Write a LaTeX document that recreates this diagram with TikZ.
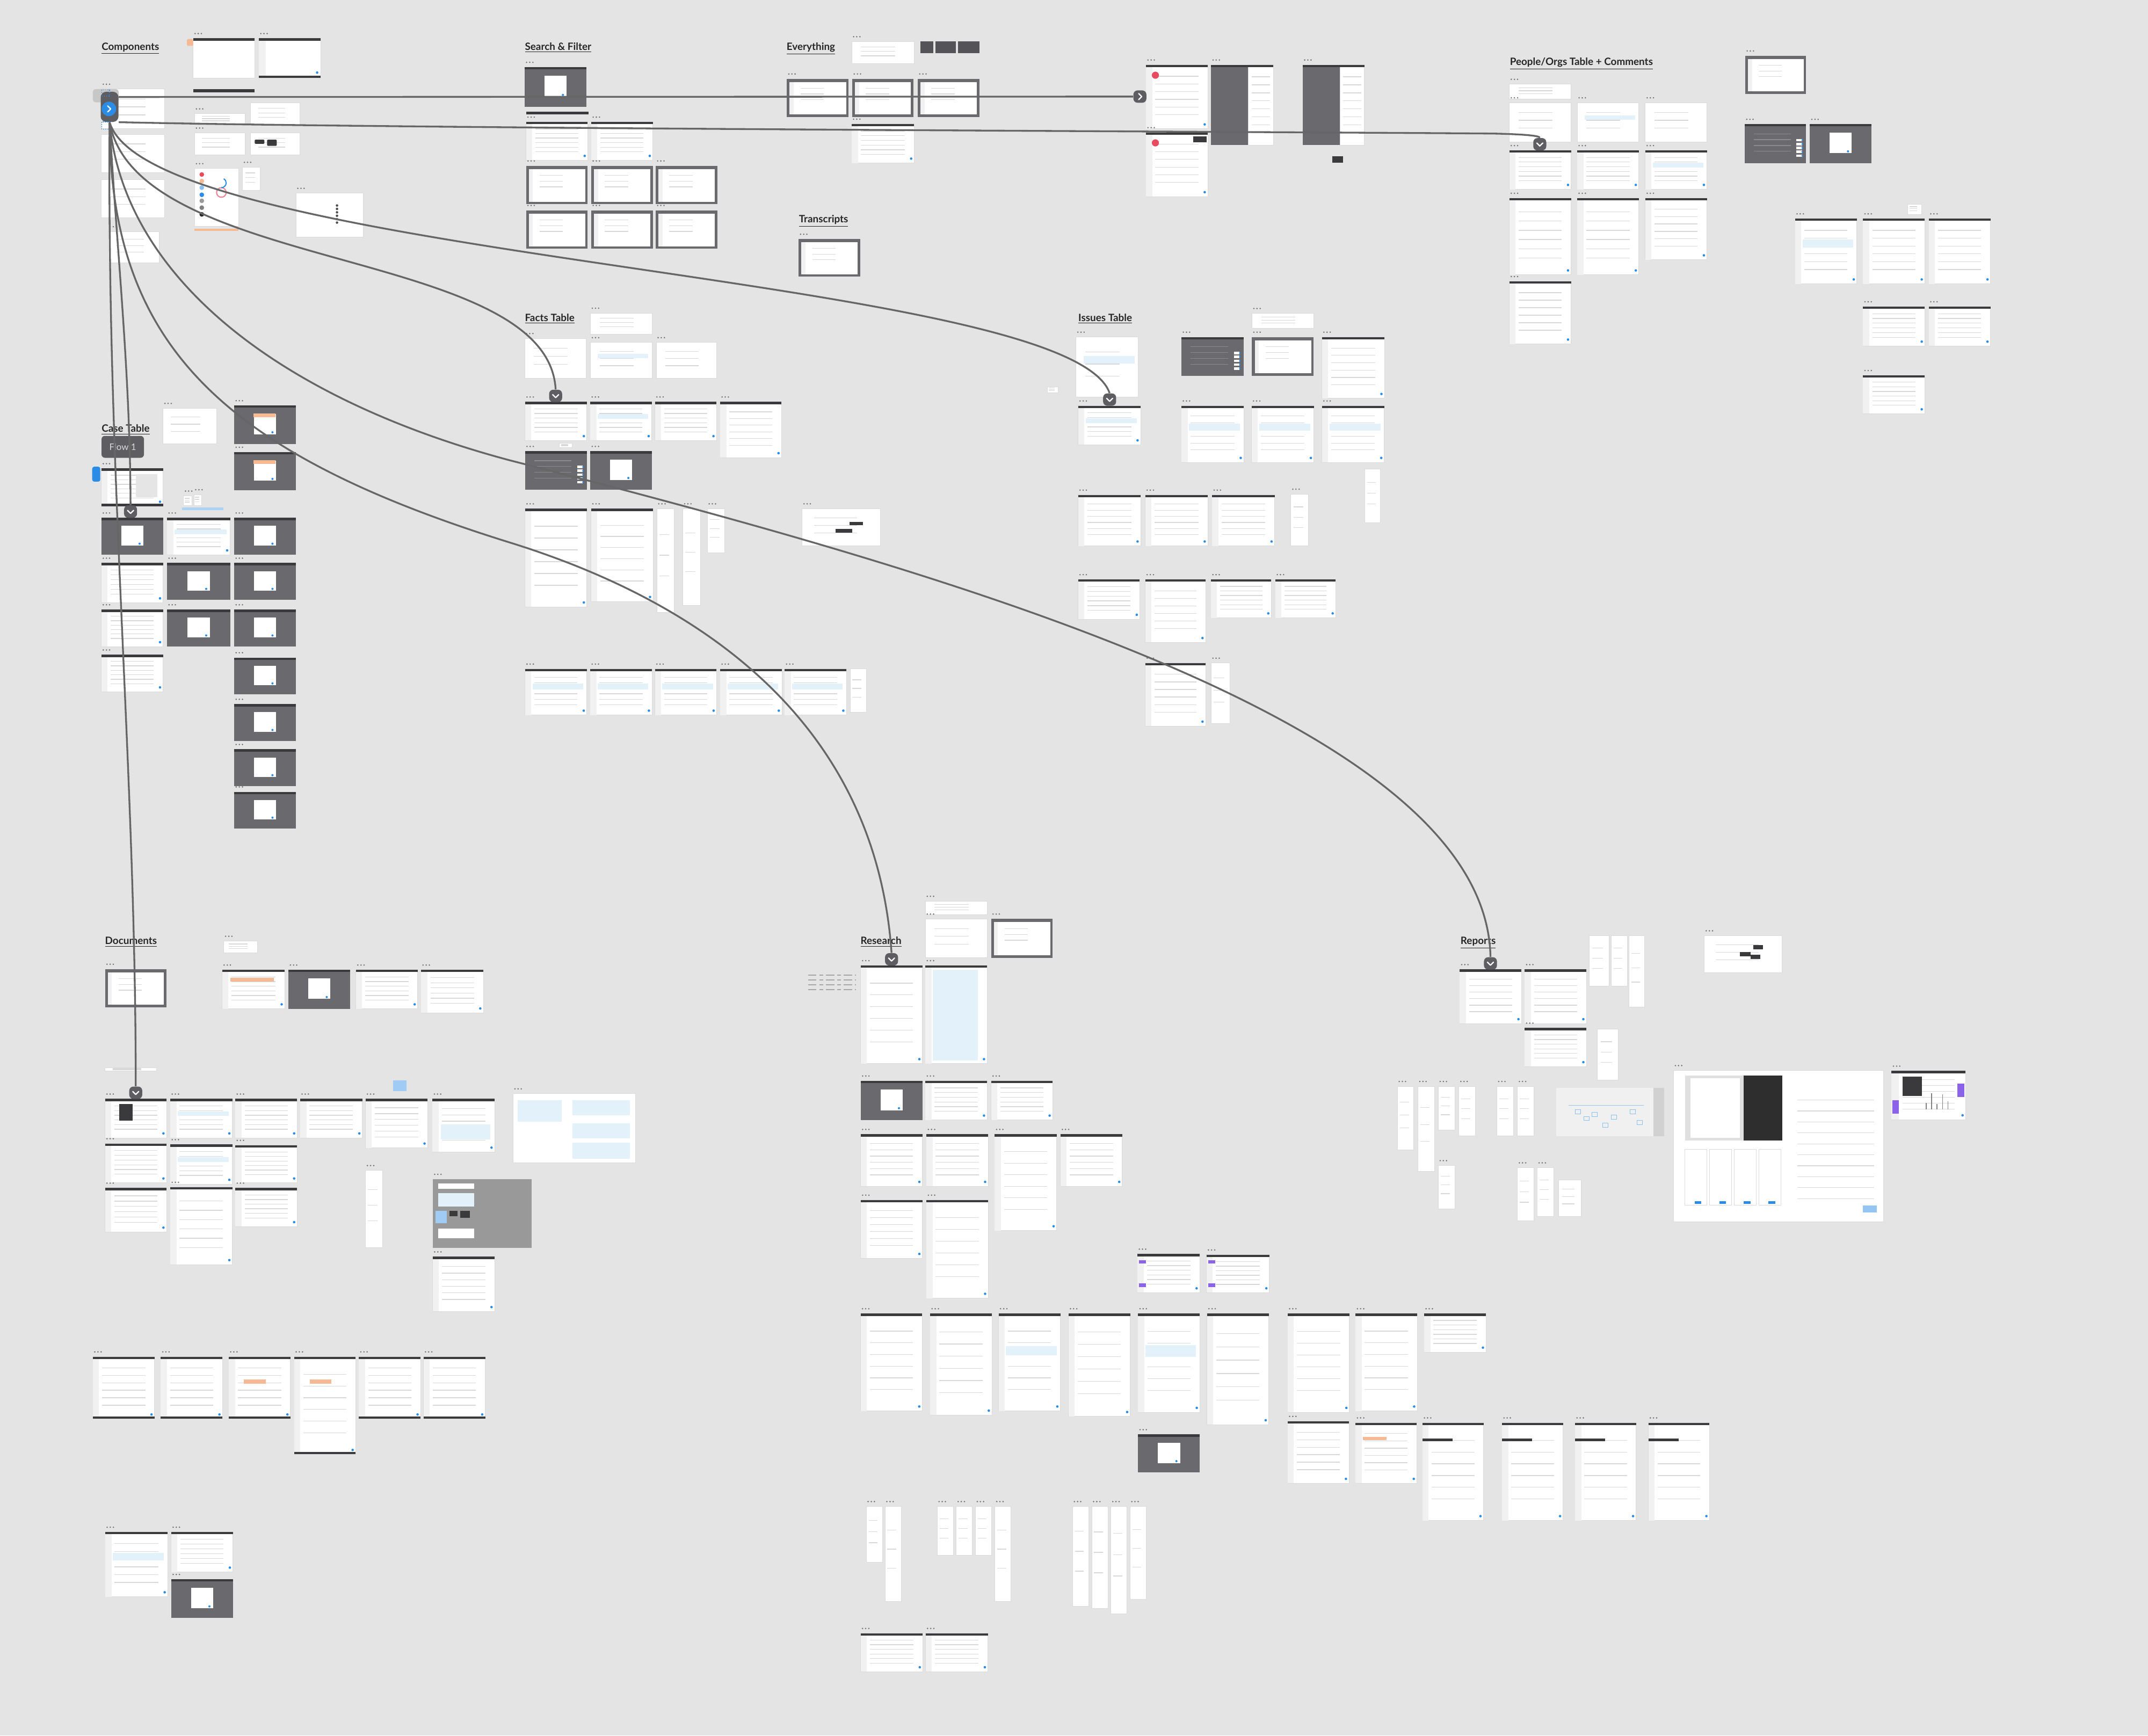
\documentclass[tikz,border=0pt]{standalone}
\usepackage{fontspec}
\setsansfont{Lato}
\usepackage{tikz}

\pgfdeclarelayer{front}
\pgfsetlayers{main,front}

\begin{document}
\begin{tikzpicture}[x=1pt,y=-1pt,
  sect/.style={anchor=base west, inner sep=0pt, font=\sffamily\bfseries\fontsize{7.4}{9}\selectfont, text=titlec},
  tab/.style={rectangle, rounded corners=3pt, fill=tabc, minimum width=9.5pt, minimum height=9pt, inner sep=0pt},
  chev/.style={white, line width=0.9pt, line cap=round, line join=round},
  flow/.style={flowc, line width=1.3pt},
  frm/.style={fill=white, draw=black!14, line width=0.3pt},
  row/.style={rowc, line width=0.5pt},
  flowtag/.style={rectangle, rounded corners=2.5pt, fill=tabc, text=white!85!black, font=\sffamily\fontsize{6.6}{7}\selectfont, minimum width=31pt, minimum height=16pt, inner sep=0pt}]

\definecolor{bgc}{HTML}{E4E4E4}
\definecolor{barc}{HTML}{3A3A3C}
\definecolor{darkc}{HTML}{69696E}
\definecolor{tabc}{HTML}{5E5E62}
\definecolor{flowc}{HTML}{666666}
\definecolor{rowc}{HTML}{D8D8D8}
\definecolor{sidec}{HTML}{F1F1F1}
\definecolor{bluec}{HTML}{2B8CE6}
\definecolor{hlc}{HTML}{E2F1FA}
\definecolor{dotc}{HTML}{6E6E6E}
\definecolor{titlec}{HTML}{262626}
\definecolor{orangec}{HTML}{F5B994}
\definecolor{redc}{HTML}{E84A5F}
\definecolor{purplec}{HTML}{8A63E8}

\newcommand{\FrameDots}[2]{%
  \foreach \dd in {0,2.3,4.6} \fill[dotc] ({#1+1.4+\dd},{#2-3.5}) circle (0.55);}

% white screen with top bar
\newcommand{\ScrFrame}[4]{%
  \draw[frm] (#1,#2) rectangle (#3,#4);
  \fill[barc] (#1,#2) rectangle (#3,{#2+1.7});
  \fill[sidec] (#1,{#2+1.7}) rectangle ({#1+0.1*(#3-#1)},#4);
  \foreach \rr in {0.18,0.3,0.42,0.54,0.66,0.78}
    \draw[row] ({#1+0.15*(#3-#1)},{#2+\rr*(#4-#2)}) -- ({#1+0.85*(#3-#1)},{#2+\rr*(#4-#2)});
  \fill[bluec] ({#3-2.2},{#4-3.2}) circle (0.9);
  \FrameDots{#1}{#2}}

\newcommand{\BareFrame}[4]{%
  \draw[frm] (#1,#2) rectangle (#3,#4);
  \foreach \rr in {0.25,0.45,0.65}
    \draw[row] ({#1+0.15*(#3-#1)},{#2+\rr*(#4-#2)}) -- ({#1+0.7*(#3-#1)},{#2+\rr*(#4-#2)});}

\newcommand{\BlankFrame}[4]{\BareFrame{#1}{#2}{#3}{#4}\FrameDots{#1}{#2}}

% dimmed screen with popup
\newcommand{\DarkFrame}[4]{%
  \fill[darkc] (#1,#2) rectangle (#3,#4);
  \fill[barc] (#1,#2) rectangle (#3,{#2+1.7});
  \fill[white] ({#1+0.32*(#3-#1)},{#2+0.22*(#4-#2)}) rectangle ({#1+0.68*(#3-#1)},{#2+0.75*(#4-#2)});
  \fill[bluec] ({#1+0.62*(#3-#1)},{#2+0.7*(#4-#2)}) circle (0.8);
  \FrameDots{#1}{#2}}

\newcommand{\DarkBtnFrame}[4]{%
  \fill[darkc] (#1,#2) rectangle (#3,#4);
  \fill[barc] (#1,#2) rectangle (#3,{#2+1.7});
  \foreach \rr in {0.25,0.4,0.55,0.7}
    \draw[black!45, line width=0.5pt] ({#1+0.15*(#3-#1)},{#2+\rr*(#4-#2)}) -- ({#1+0.75*(#3-#1)},{#2+\rr*(#4-#2)});
  \foreach \rr in {0.38,0.48,0.58,0.68,0.78}
    {\fill[white] ({#3-7},{#2+\rr*(#4-#2)}) rectangle ({#3-3},{#2+\rr*(#4-#2)+1.8});
     \fill[bluec] ({#3-2.8},{#2+\rr*(#4-#2)+0.9}) circle (0.7);}
  \FrameDots{#1}{#2}}

% dark bordered screen
\newcommand{\BoxFrame}[4]{%
  \fill[darkc] (#1,#2) rectangle (#3,#4);
  \fill[white] ({#1+2},{#2+2.4}) rectangle ({#3-1.8},{#4-1.8});
  \fill[sidec] ({#1+2},{#2+2.4}) rectangle ({#1+5},{#4-1.8});
  \foreach \rr in {0.25,0.4,0.55}
    \draw[row] ({#1+0.22*(#3-#1)},{#2+\rr*(#4-#2)}) -- ({#1+0.6*(#3-#1)},{#2+\rr*(#4-#2)});
  \FrameDots{#1}{#2}}

\newcommand{\SplitFrame}[4]{%
  \fill[darkc] (#1,#2) rectangle ({#1+0.6*(#3-#1)},#4);
  \draw[frm] ({#1+0.6*(#3-#1)},#2) rectangle (#3,#4);
  \fill[barc] (#1,#2) rectangle (#3,{#2+1.7});
  \foreach \rr in {0.15,0.25,0.35,0.45,0.55,0.65,0.75,0.85}
    \draw[row] ({#1+0.65*(#3-#1)},{#2+\rr*(#4-#2)}) -- ({#1+0.95*(#3-#1)},{#2+\rr*(#4-#2)});
  \FrameDots{#1}{#2}}

\newcommand{\HiRow}[4]{%
  \fill[hlc] ({#1+0.12*(#3-#1)},{#2+0.32*(#4-#2)}) rectangle ({#3-0.06*(#3-#1)},{#2+0.44*(#4-#2)});}

\newcommand{\DownTab}[3]{%
  \node[tab] (#1) at (#2,#3) {};
  \draw[chev] ([shift={(-2.2,-0.9)}]#1.center) -- ([shift={(0,1.3)}]#1.center) -- ([shift={(2.2,-0.9)}]#1.center);}

\newcommand{\RightTab}[3]{%
  \node[tab] (#1) at (#2,#3) {};
  \draw[chev] ([shift={(-0.9,-2.2)}]#1.center) -- ([shift={(1.3,0)}]#1.center) -- ([shift={(-0.9,2.2)}]#1.center);}

\fill[bgc] (0,0) rectangle (1568,1267);
\useasboundingbox (0,0) rectangle (1568,1267);

%% Components
\node[sect] (lComp) at (74,36.5) {\underline{Components}};
\draw[frm] (141,28) rectangle (186,57); \fill[barc] (141,28) rectangle (186,29.7); \FrameDots{141}{28}
\fill[orangec, rounded corners=1pt] (136.5,28.5) rectangle (141,33.5);
\draw[frm] (189,28) rectangle (234,57); \fill[barc] (189,28) rectangle (234,29.7);
\fill[barc] (189,55.3) rectangle (234,57); \fill[sidec] (189,29.7) rectangle (194,55.3);
\fill[bluec] (231.5,53) circle (0.9); \FrameDots{189}{28}
\fill[barc] (141,65) rectangle (186,67.5);
\BlankFrame{74}{65}{120}{94}
\BareFrame{74}{98}{120}{126}
\BareFrame{74}{131}{120}{159}
\BlankFrame{79}{169}{116}{192}
\BlankFrame{142}{83}{179}{91}
\BareFrame{183}{75}{219}{91.5}
\BlankFrame{142}{97}{179}{113}
\BareFrame{183}{97}{219}{113}
\fill[barc, rounded corners=0.5pt] (186,102) rectangle (193,105);
\fill[barc, rounded corners=0.5pt] (195,102) rectangle (202,106.5);
\draw[frm] (142,123) rectangle (174,165); \FrameDots{142}{123}
\foreach \yy/\cc in {127.4/redc,132.2/orangec,137/bluec!55,142.2/bluec,146.6/black!40,151.6/black!50,156.5/black!85}
  \fill[\cc] (147.3,\yy) circle (1.7);
\draw[redc!70, line width=0.8pt] (161.6,140.5) circle (3.5);
\draw[bluec, line width=0.8pt] (161.6,137) arc (90:-60:3.5);
\fill[orangec] (142,167) rectangle (174,168.5);
\BlankFrame{177}{122}{190}{139}
\draw[frm] (216,141) rectangle (265,173); \FrameDots{216}{141}
\foreach \yy in {150,152.5,155,157.5,160,162.5} \fill[black!70] (246,\yy) circle (0.9);

%% start of the flows
\fill[black!22, rounded corners=2pt] (67.8,65) rectangle (86.6,74.7);
\node[rectangle, rounded corners=4pt, fill=tabc, minimum width=13pt, minimum height=22pt, inner sep=0pt] (orig) at (80,78) {};
\draw[bluec, densely dotted, line width=0.6pt] (74.2,65.6) rectangle (80,70.2);
\draw[bluec, densely dotted, line width=0.6pt] (74.2,89) rectangle (80,94.3);

%% Search & Filter
\node[sect] (lSearch) at (383,36.5) {\underline{Search \& Filter}};
\DarkFrame{383}{49}{428}{78}
\fill[barc] (384,81.7) rectangle (429.6,83.6);
\ScrFrame{384}{89}{429}{117}
\ScrFrame{431.6}{89}{476.5}{117}
\foreach \xx in {384,431.6,478.7} {
  \BoxFrame{\xx}{121}{\xx+45}{149}
  \BoxFrame{\xx}{153.5}{\xx+45}{181.6}}

%% Everything
\node[sect] (lEvery) at (574,36.5) {\underline{Everything}};
\BlankFrame{621.7}{30.3}{667.3}{46.4}
\fill[darkc!80!black] (671.8,30) rectangle (681.3,39);
\fill[darkc!80!black] (682.7,30) rectangle (697.8,39);
\fill[darkc!80!black] (699.5,30) rectangle (715,39);
\BoxFrame{574.4}{57.5}{619.5}{85.3}
\BoxFrame{622.2}{57.5}{666.8}{85.3}
\BoxFrame{670}{57.5}{715}{85.3}
\ScrFrame{621.7}{90.5}{667.3}{119}
\ScrFrame{836.6}{47.3}{881.6}{94}
\fill[redc] (843.4,54.9) circle (2.6);
\SplitFrame{884.1}{47.3}{929.4}{105.8}
\SplitFrame{951}{47.3}{996}{105.8}
\ScrFrame{836.6}{96.7}{881.6}{143.5}
\fill[redc] (843.4,104.3) circle (2.6);
\fill[barc] (871,99.6) rectangle (880.8,104);
\fill[barc] (972.4,114) rectangle (980.2,118.8);

%% Transcripts
\node[sect] (lTrans) at (583,162.5) {\underline{Transcripts}};
\BoxFrame{583}{174.5}{628}{202}

%% People/Orgs Table + Comments
\node[sect] (lPeople) at (1102,47.5) {\underline{People/Orgs Table + Comments}};
\BoxFrame{1274}{40.7}{1318.4}{68.5}
\BlankFrame{1101.8}{61.4}{1146.8}{72.2}
\foreach \xx in {1101.8,1151.3,1201} {
  \BlankFrame{\xx}{74.9}{\xx+45}{103.6}
  \ScrFrame{\xx}{109.8}{\xx+45}{138.2}}
\HiRow{1151.3}{74.9}{1196.3}{103.6}
\HiRow{1201}{109.8}{1246}{138.2}
\ScrFrame{1101.8}{144.6}{1146.8}{200.6}
\ScrFrame{1151.3}{144.6}{1196.3}{200.6}
\ScrFrame{1201}{144.6}{1246}{189.6}
\ScrFrame{1101.8}{205.4}{1146.8}{251.1}
\DarkBtnFrame{1273.7}{90.6}{1318.4}{119}
\DarkFrame{1321.2}{90.6}{1366}{119}
\ScrFrame{1310.4}{159.6}{1355.4}{207.2}
\ScrFrame{1360}{159.6}{1405}{207.2}
\ScrFrame{1408}{159.6}{1453}{207.2}
\HiRow{1310.4}{159.6}{1355.4}{207.2}
\BareFrame{1392.6}{149}{1402.6}{156.6}
\ScrFrame{1360}{223.8}{1405}{252.6}
\ScrFrame{1408}{223.8}{1453}{252.6}
\ScrFrame{1360}{274}{1405}{302}

%% Facts Table
\node[sect] (lFacts) at (383,234.5) {\underline{Facts Table}};
\BlankFrame{431}{228.5}{476}{244}
\BlankFrame{383}{247}{428}{276}
\BlankFrame{431}{250}{476}{276}
\BlankFrame{479}{250}{523}{276}
\HiRow{431}{250}{476}{276}
\ScrFrame{383.3}{293.3}{428.4}{321.6}
\ScrFrame{430.9}{293.3}{475.7}{321.6}
\ScrFrame{478.1}{293.3}{523}{321.6}
\ScrFrame{525.7}{293.3}{570.5}{334}
\HiRow{430.9}{293.3}{475.7}{321.6}
\BareFrame{408.3}{323.7}{417.5}{326.5}
\DarkBtnFrame{383.3}{329.4}{428.4}{357.3}
\DarkFrame{430.9}{329.4}{475.7}{357.3}
\ScrFrame{383.3}{371.3}{428.4}{443}
\ScrFrame{431.4}{371.3}{476.7}{439}
\BlankFrame{479.5}{371.3}{492}{447}
\BlankFrame{498.4}{371.3}{511.5}{442}
\BlankFrame{516.3}{371.3}{529}{403.6}
\BlankFrame{585.5}{371.3}{642.8}{398.4}
\fill[barc] (620,381) rectangle (630,383.5);
\fill[barc] (610,386) rectangle (622,389);
\foreach \xx in {383.3,430.9,478.1,525.7,572.8} {
  \ScrFrame{\xx}{488.3}{\xx+45}{522}
  \HiRow{\xx}{488.3}{\xx+45}{522}}
\BareFrame{620.5}{488.3}{632.3}{520}

%% Issues Table
\node[sect] (lIssues) at (787,234.5) {\underline{Issues Table}};
\BlankFrame{913.9}{228.7}{958.9}{239.8}
\BlankFrame{785.4}{246}{830.9}{290}
\HiRow{785.4}{246}{830.9}{290}
\DarkBtnFrame{862.4}{246}{907.9}{274.4}
\BoxFrame{913.9}{246}{958.9}{274.4}
\ScrFrame{965}{246}{1010.6}{290.8}
\ScrFrame{787}{296.2}{832.6}{324.7}
\HiRow{787}{296.2}{832.6}{324.7}
\foreach \xx in {862.4,913.6,965} {
  \ScrFrame{\xx}{296.2}{\xx+45.5}{337.5}
  \HiRow{\xx}{296.2}{\xx+45.5}{337.5}}
\BareFrame{996.3}{342.4}{1007.7}{381.6}
\BareFrame{764.4}{282.2}{772.3}{286.8}
\ScrFrame{787}{361.3}{832.6}{398.5}
\ScrFrame{836}{361.3}{881.6}{398.5}
\ScrFrame{884.9}{361.3}{930.4}{398.5}
\BlankFrame{942.3}{360.6}{955}{398.5}
\ScrFrame{787}{423}{832}{452}
\ScrFrame{836}{423}{880}{469}
\ScrFrame{884}{423}{928}{451}
\ScrFrame{931}{423}{975}{451}
\ScrFrame{836}{484}{880}{530}
\BlankFrame{884}{484}{898}{528}

%% Case Table
\node[sect] (lCase) at (74,315.5) {\underline{Case Table}};
\node[flowtag] (flowOne) at (89.6,326.2) {Flow 1};
\BlankFrame{119}{298}{158}{324}
\DarkFrame{171}{296}{216}{324}
\DarkFrame{171}{330}{216}{358}
\fill[orangec] (185,302) rectangle (201,304.5);
\fill[orangec] (185,336) rectangle (201,338.5);
\fill[bluec, rounded corners=1.5pt] (67.3,340.7) rectangle (73.2,351.6);
\ScrFrame{74}{342}{119}{369.5}
\fill[barc] (74,367.5) rectangle (119,369.5);
\fill[black!10] (99,346) rectangle (115,363);
\BlankFrame{134}{362}{140}{369}
\BlankFrame{141.5}{361}{147}{369}
\fill[hlc!70!bluec] (133,370.5) rectangle (163,372.5);
\DarkFrame{74}{378}{119}{405}
\ScrFrame{74}{411}{119}{440}
\ScrFrame{74}{445}{119}{472}
\ScrFrame{74}{478}{119}{505}
\ScrFrame{122}{378}{168}{405}
\HiRow{122}{378}{168}{405}
\DarkFrame{122}{411}{168}{438}
\DarkFrame{122}{445}{168}{472}
\foreach \yy in {378,411,445,480,514,547,578}
  {\DarkFrame{171}{\yy}{216}{\yy+27}}

%% Documents
\node[sect] (lDocs) at (76.5,689.5) {\underline{Documents}};
\BoxFrame{76.7}{707.4}{121.5}{735.4}
\BlankFrame{163.3}{687}{188}{695.4}
\ScrFrame{162.2}{708}{207.8}{736.4}
\fill[orangec] (168,714) rectangle (200,716.5);
\DarkFrame{210.6}{708}{255.6}{736.4}
\ScrFrame{259.8}{708}{304.9}{736.4}
\ScrFrame{307.4}{708}{352.8}{739.4}
\BareFrame{76.7}{779.4}{114.3}{781.9}
\fill[bluec!45] (287,788.8) rectangle (296.6,796.4);
\ScrFrame{76.7}{802.2}{121.5}{830.6}
\fill[barc] (87,806) rectangle (97,818);
\ScrFrame{124.3}{802.2}{169.6}{830.6}
\HiRow{124.3}{802.2}{169.6}{830.6}
\ScrFrame{171.8}{802.2}{216.9}{830.6}
\ScrFrame{219.1}{802.2}{264.5}{830.6}
\ScrFrame{266.8}{802.2}{312.1}{838}
\ScrFrame{315.7}{802.2}{361}{841}
\fill[hlc] (322,821) rectangle (358,832);
\draw[frm] (374.5,798.4) rectangle (463.9,849); \FrameDots{374.5}{798.4}
\fill[hlc] (378,803) rectangle (410,819);
\fill[hlc] (418,803) rectangle (460,814);
\fill[hlc] (418,820) rectangle (460,831);
\fill[hlc] (418,834) rectangle (460,846);
\ScrFrame{76.7}{834.8}{121.5}{863.5}
\ScrFrame{124.3}{835.5}{169.6}{864.5}
\HiRow{124.3}{835.5}{169.6}{864.5}
\ScrFrame{171.8}{836}{216.9}{863.5}
\BlankFrame{266.8}{854.4}{279.1}{910.8}
\fill[black!40] (315.9,860.8) rectangle (387.9,910.8); \FrameDots{315.9}{860.8}
\fill[white] (320,864) rectangle (346,868);
\fill[hlc] (320,871) rectangle (346,881);
\fill[barc] (328,884) rectangle (334,888); \fill[barc] (336,884) rectangle (343,889);
\fill[bluec!45] (318,884) rectangle (326,893);
\fill[white] (320,897) rectangle (346,904);
\ScrFrame{76.7}{867.2}{121.5}{899.4}
\ScrFrame{124.3}{866.6}{169.6}{923.1}
\ScrFrame{171.8}{867.2}{216.9}{895.4}
\ScrFrame{315.9}{917.4}{361}{957.4}
\foreach \xx in {67.8,117.4,167,262,309.2} {
  \ScrFrame{\xx}{990.4}{\xx+45}{1035.8}
  \fill[barc] (\xx,1034) rectangle (\xx+45,1035.8);}
\ScrFrame{214.8}{990.4}{259.6}{1061.7}
\fill[barc] (214.8,1060) rectangle (259.6,1061.7);
\fill[orangec] (178,1007) rectangle (194,1010);
\fill[orangec] (226,1007) rectangle (242,1010);
\ScrFrame{76.8}{1118.4}{122.4}{1165.6}
\ScrFrame{125}{1118.4}{170}{1147.6}
\HiRow{76.8}{1118.4}{122.4}{1165.6}
\DarkFrame{125}{1152.9}{170}{1181.2}

%% Research
\node[sect] (lRes) at (628,689.5) {\underline{Research}};
\BlankFrame{675.5}{657.8}{720.5}{667.8}
\BlankFrame{675.5}{670.8}{720.5}{699.2}
\BoxFrame{723.5}{670.8}{768.4}{699.2}
\foreach \yy in {712,715.5,719,722.5}
  \draw[black!35, line width=0.8pt, dash pattern=on 6pt off 2pt on 3pt off 2pt] (590,\yy) -- (625,\yy);
\ScrFrame{628.3}{704.8}{673.3}{776.4}
\ScrFrame{675.5}{704.8}{720.5}{776.4}
\fill[hlc] (681,708) rectangle (714,774);
\DarkFrame{628.3}{789}{673.3}{817.6}
\ScrFrame{675.5}{789}{720.5}{817.6}
\ScrFrame{723.5}{789}{768.4}{817.6}
\ScrFrame{628.3}{828}{673.3}{866}
\ScrFrame{676.3}{828}{721.3}{866}
\ScrFrame{726.1}{828}{771.3}{898.4}
\ScrFrame{774.1}{828}{819.2}{866}
\ScrFrame{628.3}{876}{673.3}{918.6}
\ScrFrame{676.3}{876}{721.3}{947.7}
\ScrFrame{830.3}{915.4}{875.7}{943.7}
\ScrFrame{880.7}{916}{926.6}{943.7}
\fill[purplec] (831.5,920) rectangle (836.5,922.5); \fill[purplec] (831.5,937) rectangle (836.5,939.5);
\fill[purplec] (882,920) rectangle (887,922.5); \fill[purplec] (882,937) rectangle (887,939.5);
\foreach \xx/\yb in {628.2/1030,679/1033,729/1030,780/1034,830.8/1031,881.1/1040,940/1031,989.5/1030}
  {\ScrFrame{\xx}{958.9}{\xx+45}{\yb}}
\HiRow{830.8}{958.9}{875.8}{1031}
\HiRow{729}{965}{774}{1020}
\ScrFrame{1039.6}{958.9}{1084.7}{987}
\DarkFrame{830.8}{1047.2}{875.9}{1075}
\ScrFrame{940}{1037.5}{984.7}{1082.8}
\ScrFrame{989.5}{1038.6}{1034.2}{1082.8}
\fill[orangec] (995,1049) rectangle (1012,1051.5);
\foreach \xx in {1038.4,1096.5,1149.8,1203.3} {
  \ScrFrame{\xx}{1038.6}{\xx+44.5}{1110}
  \fill[barc] (\xx,1050) rectangle (\xx+22,1052);}
\foreach \xx/\yb in {632.3/1140.5,646/1169,684.1/1135.4,698/1135.4,712/1135.4,726.2/1169,782.9/1172.5,796.9/1174.3,810.9/1177.9,824.8/1167.7}
  {\BlankFrame{\xx}{1099.7}{\xx+11.8}{\yb}}
\ScrFrame{628.2}{1192.3}{673.6}{1220.3}
\ScrFrame{675.7}{1192.3}{721.1}{1220.3}

%% Reports
\node[sect] (lRep) at (1066,689.5) {\underline{Reports}};
\ScrFrame{1065.6}{707.7}{1110.6}{747.2}
\ScrFrame{1113}{707.7}{1158}{747.2}
\ScrFrame{1113}{750.4}{1158}{778.6}
\BareFrame{1160.1}{683}{1174.5}{719.7}
\BareFrame{1176}{683}{1187.7}{719.7}
\BareFrame{1189.2}{683}{1200.6}{735.3}
\BareFrame{1166.1}{751.1}{1181.1}{788.6}
\BlankFrame{1244.1}{683}{1300.8}{710.2}
\fill[barc] (1270,695) rectangle (1278,698); \fill[barc] (1280,690) rectangle (1287,693); \fill[barc] (1278,697) rectangle (1285,700);
\foreach \xx/\yb in {1020/839.6,1035/855,1049.9/825,1065/829.4,1092.6/829.4,1107.7/829.4}
  {\BlankFrame{\xx}{793}{\xx+12}{\yb}}
\fill[black!6] (1136.1,794) rectangle (1214.6,829.4);
\fill[black!18] (1207,794) rectangle (1214.6,829.4);
\draw[bluec!50, line width=0.4pt] (1145,807) -- (1200,807);
\foreach \xx/\yy in {1150/810,1156/815,1162/812,1170/820,1176/814,1190/810,1195/818}
  \draw[bluec!55, line width=0.4pt] (\xx,\yy) rectangle +(4,3);
\draw[frm] (1221.6,781.4) rectangle (1374.9,892); \FrameDots{1221.6}{781.4}
\fill[black!12] (1230,785) rectangle (1273,832.6);
\fill[white] (1234,787) rectangle (1270,830.5);
\fill[black!82] (1273,785) rectangle (1301,832.6);
\foreach \xx in {1230,1248,1266,1284}
  {\draw[frm] (\xx,839) rectangle (\xx+16,879.6);
   \fill[bluec] (\xx+7,877) rectangle (\xx+12,879);}
\foreach \yy in {803,811,819,827,835,843,851,859,867,875}
  \draw[row] (1312,\yy) -- (1368,\yy);
\fill[bluec!50] (1360,880) rectangle (1370,885);
\ScrFrame{1380.8}{781.8}{1434.8}{817.4}
\fill[barc] (1389,786) rectangle (1403,800);
\fill[purplec] (1381.5,803) rectangle (1386,813);
\fill[purplec] (1429,791) rectangle (1434,801);
\foreach \xx/\yy in {1406/805,1410/798,1414/806,1418/799,1422/804}
  \draw[black!50, line width=0.6pt] (\xx,810) -- (\xx,\yy);
\BlankFrame{1049.9}{850.8}{1062}{882.5}
\BlankFrame{1107.7}{852.4}{1119.7}{891.3}
\BlankFrame{1122.1}{852.4}{1134.2}{888}
\BareFrame{1137.7}{861.5}{1154.2}{888.2}

%% handles, kept in front of the lines
\begin{pgfonlayer}{front}
\node[circle, fill=bluec, minimum size=10.6pt, inner sep=0pt] (origBtn) at (79.5,79.5) {};
\draw[chev] ([shift={(-0.9,-2.2)}]origBtn.center) -- ([shift={(1.3,0)}]origBtn.center) -- ([shift={(-0.9,2.2)}]origBtn.center);
\RightTab{hEvery}{832.1}{70.5}
\DownTab{hPeople}{1124}{105.3}
\DownTab{hFacts}{405.6}{289}
\DownTab{hIssues}{810}{291.7}
\DownTab{hCase}{95.3}{373.5}
\DownTab{hDocs}{99.1}{797.7}
\DownTab{hRes}{650.8}{700.3}
\DownTab{hRep}{1088}{703.3}
\end{pgfonlayer}

%% connectors
\draw[flow] ([yshift=-4pt]orig.north east) -- (hEvery.west);
\draw[flow] (orig.south east) .. controls (300,94) and (900,96) .. (1090,97.5)
  .. controls (1112,98) and (1124,99) .. (hPeople.north);
\draw[flow] (orig.south) .. controls (100,200) and (400,180) .. (hFacts.north);
\draw[flow] (orig.south) .. controls (110,190) and (780,200) .. (hIssues.north);
\draw[flow] (orig.south) .. controls (85,180) and (95,270) .. (hCase.north);
\draw[flow] (orig.south) .. controls (78,350) and (99,560) .. (hDocs.north);
\draw[flow] (orig.south) .. controls (80,250) and (160,330) .. (372,396)
  .. controls (530,445) and (640,540) .. (hRes.north);
\draw[flow] (orig.south) .. controls (90,200) and (200,290) .. (372,336)
  .. controls (700,420) and (1085,530) .. (hRep.north);

\end{tikzpicture}
\end{document}
